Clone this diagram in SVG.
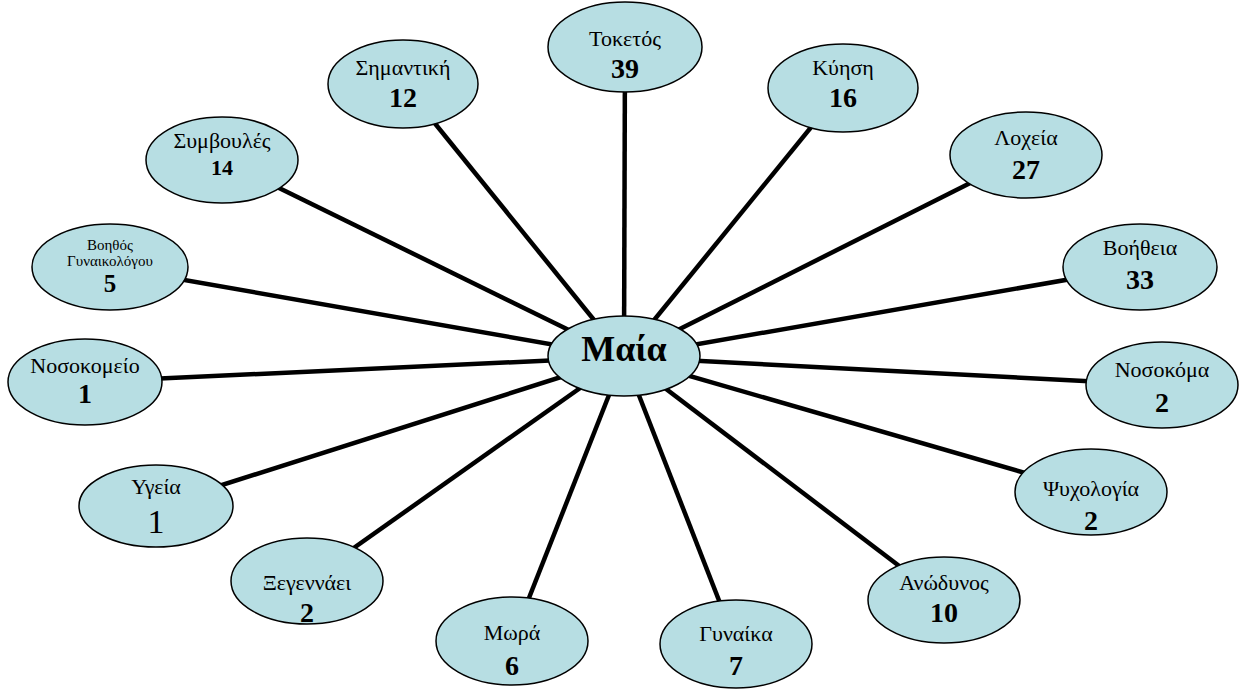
<svg xmlns="http://www.w3.org/2000/svg" width="1242" height="689" viewBox="0 0 1242 689">
<style>
.n ellipse{fill:#b7dee3;stroke:#000;stroke-width:1.5}
text{font-family:"Liberation Serif","Times New Roman","DejaVu Serif",serif;text-anchor:middle;fill:#000}
.l{font-size:22px}
.v{font-size:28px;font-weight:bold}
.c line{stroke:#000;stroke-width:4.5}
</style>
<rect width="1242" height="689" fill="#fff"/>
<g class="c" id="connectors">
<line x1="624" y1="357" x2="625" y2="47"/>
<line x1="624" y1="357" x2="403" y2="84"/>
<line x1="624" y1="357" x2="843" y2="88"/>
<line x1="624" y1="357" x2="1026" y2="155"/>
<line x1="624" y1="357" x2="1140" y2="267"/>
<line x1="624" y1="357" x2="1162" y2="385"/>
<line x1="624" y1="357" x2="1091" y2="492"/>
<line x1="624" y1="357" x2="944" y2="600"/>
<line x1="624" y1="357" x2="736" y2="644"/>
<line x1="624" y1="357" x2="512" y2="641"/>
<line x1="624" y1="357" x2="307" y2="581"/>
<line x1="624" y1="357" x2="156" y2="506"/>
<line x1="624" y1="357" x2="85" y2="382"/>
<line x1="624" y1="357" x2="110" y2="267"/>
<line x1="624" y1="357" x2="222" y2="160"/>
</g>
<g class="n" id="maia"><ellipse cx="624" cy="356" rx="76" ry="40"/><text x="624" y="361" style="font-size:36px;font-weight:bold">Μαία</text></g>
<g class="n" id="toketos"><ellipse cx="625" cy="47" rx="77" ry="45"/><text class="l" x="625" y="46">Τοκετός</text><text class="v" x="625" y="78">39</text></g>
<g class="n" id="simantiki"><ellipse cx="403" cy="84" rx="75" ry="44"/><text class="l" x="403" y="75">Σημαντική</text><text class="v" x="403" y="107">12</text></g>
<g class="n" id="kyisi"><ellipse cx="843" cy="88" rx="75" ry="44"/><text class="l" x="843" y="75">Κύηση</text><text class="v" x="843" y="107">16</text></g>
<g class="n" id="loxeia"><ellipse cx="1026" cy="155" rx="76" ry="43"/><text class="l" x="1026" y="145">Λοχεία</text><text class="v" x="1026" y="179">27</text></g>
<g class="n" id="voitheia"><ellipse cx="1140" cy="267" rx="77" ry="43"/><text class="l" x="1140" y="255">Βοήθεια</text><text class="v" x="1140" y="289">33</text></g>
<g class="n" id="nosokoma"><ellipse cx="1162" cy="385" rx="76" ry="43"/><text class="l" x="1162" y="377">Νοσοκόμα</text><text class="v" x="1162" y="412">2</text></g>
<g class="n" id="psyxologia"><ellipse cx="1091" cy="492" rx="76" ry="43"/><text class="l" x="1091" y="496">Ψυχολογία</text><text class="v" x="1091" y="530">2</text></g>
<g class="n" id="anodynos"><ellipse cx="944" cy="600" rx="76" ry="43"/><text class="l" x="944" y="590">Ανώδυνος</text><text class="v" x="944" y="622">10</text></g>
<g class="n" id="gynaika"><ellipse cx="736" cy="644" rx="76" ry="44"/><text class="l" x="736" y="641">Γυναίκα</text><text class="v" x="736" y="675">7</text></g>
<g class="n" id="mora"><ellipse cx="512" cy="641" rx="76" ry="44"/><text class="l" x="512" y="640">Μωρά</text><text class="v" x="512" y="675">6</text></g>
<g class="n" id="xegennaei"><ellipse cx="307" cy="581" rx="76" ry="43"/><text class="l" x="307" y="590">Ξεγεννάει</text><text class="v" x="307" y="622">2</text></g>
<g class="n" id="ygeia"><ellipse cx="156" cy="506" rx="77" ry="41"/><text class="l" x="156" y="494">Υγεία</text><text x="156" y="533" style="font-size:34px">1</text></g>
<g class="n" id="nosokomeio"><ellipse cx="85" cy="382" rx="77" ry="43"/><text class="l" x="85" y="373">Νοσοκομείο</text><text class="v" x="85" y="403">1</text></g>
<g class="n" id="voithos"><ellipse cx="110" cy="267" rx="78" ry="43"/><text x="110" y="250" style="font-size:15px">Βοηθός</text><text x="110" y="266" style="font-size:15px">Γυναικολόγου</text><text x="110" y="292" style="font-size:25px;font-weight:bold">5</text></g>
<g class="n" id="symvoules"><ellipse cx="222" cy="160" rx="76" ry="43"/><text class="l" x="222" y="148">Συμβουλές</text><text x="222" y="175" style="font-size:22px;font-weight:bold">14</text></g>
</svg>
